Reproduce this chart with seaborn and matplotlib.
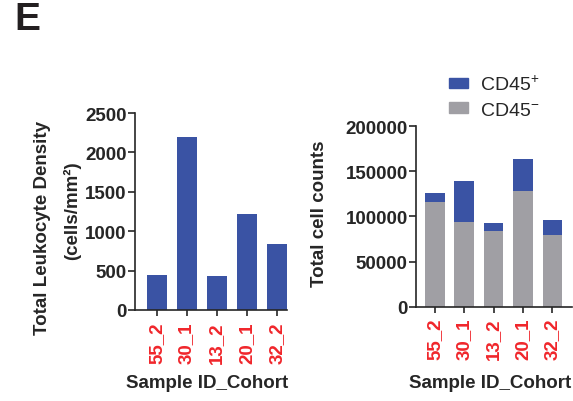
import matplotlib
matplotlib.use("Agg")
import pandas as pd
import seaborn as sns
import matplotlib.pyplot as plt
from matplotlib.patches import Patch

samples = ["55_2", "30_1", "13_2", "20_1", "32_2"]
leukocyte_density = [445, 2195, 430, 1215, 840]
cd45_neg = [116000, 94000, 84300, 128300, 79800]
cd45_pos = [10000, 45400, 8500, 35400, 16300]

blue = "#3A53A4"
gray = "#A09FA4"
red = "#F0262B"

sns.set_style("ticks")
plt.rcParams["font.family"] = ["Liberation Sans", "DejaVu Sans"]
plt.rcParams["axes.linewidth"] = 1.2
plt.rcParams["mathtext.fontset"] = "custom"
plt.rcParams["mathtext.rm"] = "Liberation Sans"
plt.rcParams["mathtext.default"] = "regular"

df = pd.DataFrame({"sample": samples, "density": leukocyte_density,
                   "neg": cd45_neg, "pos": cd45_pos})
df["total"] = df["neg"] + df["pos"]

fig = plt.figure(figsize=(5.73, 4.02), dpi=100)
ax1 = fig.add_axes([0.2356, 0.2264, 0.2653, 0.49])
ax2 = fig.add_axes([0.726, 0.2346, 0.272, 0.4488])

sns.barplot(data=df, x="sample", y="density", color=blue, width=0.67,
            saturation=1, linewidth=0, ax=ax1)
sns.barplot(data=df, x="sample", y="total", color=blue, width=0.67,
            saturation=1, linewidth=0, ax=ax2)
sns.barplot(data=df, x="sample", y="neg", color=gray, width=0.67,
            saturation=1, linewidth=0, ax=ax2)

ax1.set_ylim(0, 2500)
ax1.set_yticks([0, 500, 1000, 1500, 2000, 2500])
ax1.set_xlim(-0.72, 4.34)
ax2.set_ylim(0, 200000)
ax2.set_yticks([0, 50000, 100000, 150000, 200000])
ax2.set_xlim(-0.64, 4.66)

for ax in (ax1, ax2):
    sns.despine(ax=ax)
    ax.set_xlabel("")
    ax.set_ylabel("")
    ax.tick_params(axis="y", length=5, width=1.2, pad=1, labelsize=13.5)
    ax.tick_params(axis="x", length=4.5, width=1.2, pad=3.5, labelsize=13.5,
                   labelrotation=90, labelcolor=red)
    for lab in ax.get_xticklabels() + ax.get_yticklabels():
        lab.set_fontweight("bold")

fig.text(43 / 573, 1 - 228 / 402, "Total Leukocyte Density", rotation=90,
         ha="center", va="center", fontsize=13.5, fontweight="bold")
fig.text(72 / 573, 1 - 211 / 402, "(cells/mm²)", rotation=90,
         ha="center", va="center", fontsize=13.5, fontweight="bold")
fig.text(320 / 573, 1 - 214 / 402, "Total cell counts", rotation=90,
         ha="center", va="center", fontsize=13.5, fontweight="bold")
fig.text(207 / 573, 1 - 384 / 402, "Sample ID_Cohort",
         ha="center", va="center", fontsize=13.5, fontweight="bold")
fig.text(490 / 573, 1 - 384 / 402, "Sample ID_Cohort",
         ha="center", va="center", fontsize=13.5, fontweight="bold")
fig.text(14 / 573, 1 - 30 / 402, "E", ha="left", va="baseline",
         fontsize=28, fontweight="bold", color="#231F20")

handles = [Patch(color=blue, label="CD45$^{+}$"),
           Patch(color=gray, label="CD45$^{-}$")]
fig.legend(handles=handles, loc="upper left",
           bbox_to_anchor=(431 / 573, 1 - 58 / 402), frameon=False,
           fontsize=14, handlelength=1.0, handleheight=0.45,
           handletextpad=0.6, labelspacing=0.4)

fig.savefig("out.png", dpi=100)
